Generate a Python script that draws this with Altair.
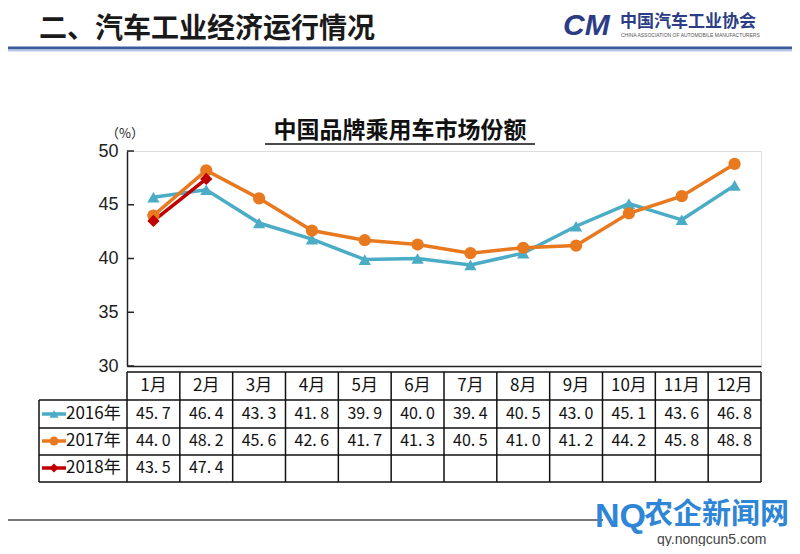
import altair as alt
import pandas as pd

months = ["1月", "2月", "3月", "4月", "5月", "6月", "7月", "8月", "9月", "10月", "11月", "12月"]
series = ["2016年", "2017年", "2018年"]
v2016 = [45.7, 46.4, 43.3, 41.8, 39.9, 40.0, 39.4, 40.5, 43.0, 45.1, 43.6, 46.8]
v2017 = [44.0, 48.2, 45.6, 42.6, 41.7, 41.3, 40.5, 41.0, 41.2, 44.2, 45.8, 48.8]
v2018 = [43.5, 47.4]
colors = ["#4BACC6", "#E8791F", "#C00000"]
shapes = ["triangle-up", "circle", "diamond"]
y_ticks = [30, 35, 40, 45, 50]

rows = []
for s, vals in zip(series, [v2016, v2017, v2018]):
    for i, v in enumerate(vals):
        rows.append({"m": i + 1, "month": months[i], "series": s, "value": v,
                     "label": f"{v:.1f}".replace(".", ". ")})
df = pd.DataFrame(rows)
mdf = pd.DataFrame({"m": list(range(1, 13)), "month": months})
bdf = pd.DataFrame({"b": [i + 0.5 for i in range(13)]})
tdf = pd.DataFrame({"t": y_ticks})

CJK = "Noto Sans CJK SC"
xs = alt.Scale(domain=[0.5, 12.5], nice=False, zero=False)
ys = alt.Scale(domain=[30, 50], nice=False, zero=False)
cs = alt.Scale(domain=series, range=colors)
ss = alt.Scale(domain=series, range=shapes)

base = alt.Chart(df)

lines = base.mark_line(strokeWidth=3.5).encode(
    x=alt.X("m:Q", scale=xs, axis=alt.Axis(labels=False, ticks=False, grid=False, title=None,
                                           domainColor="#222", domainWidth=1.5)),
    y=alt.Y("value:Q", scale=ys, axis=alt.Axis(values=y_ticks, ticks=False, grid=False, title=None,
                                              labelFont="Liberation Sans", labelFontSize=18,
                                              labelColor="#222", labelPadding=9,
                                              domainColor="#222", domainWidth=1.5)),
    color=alt.Color("series:N", scale=cs, legend=None),
    detail="series:N",
    order=alt.Order("m:Q"),
)
points = base.mark_point(filled=True, opacity=1, size=150).encode(
    x=alt.X("m:Q", scale=xs),
    y=alt.Y("value:Q", scale=ys),
    color=alt.Color("series:N", scale=cs, legend=None),
    shape=alt.Shape("series:N", scale=ss, legend=None),
)

yticks = alt.Chart(tdf).mark_rule(color="#222", strokeWidth=1.5).encode(
    y=alt.Y("t:Q", scale=ys), x=alt.value(0), x2=alt.value(7))

# Header
header = alt.Chart(pd.DataFrame({"t": ["二、汽车工业经济运行情况"]})).mark_text(
    align="left", baseline="middle", font=CJK, fontSize=28, fontWeight="bold", color="#1a1a1a"
).encode(text="t:N", x=alt.value(-88), y=alt.value(-121))
hline1 = alt.Chart(pd.DataFrame({"a": [0]})).mark_rule(color="#3A5A9C", strokeWidth=3).encode(
    x=alt.value(-135), x2=alt.value(700), y=alt.value(-103))
hline2 = alt.Chart(pd.DataFrame({"a": [0]})).mark_rule(color="#B5C9E6", strokeWidth=2).encode(
    x=alt.value(-135), x2=alt.value(700), y=alt.value(-100.5))
logo_cm = alt.Chart(pd.DataFrame({"t": ["CM"]})).mark_text(
    align="left", baseline="middle", font="Liberation Sans", fontSize=30, fontWeight="bold",
    fontStyle="italic", color="#2B3D85"
).encode(text="t:N", x=alt.value(436), y=alt.value(-125))
logo_cn = alt.Chart(pd.DataFrame({"t": ["中国汽车工业协会"]})).mark_text(
    align="left", baseline="middle", font=CJK, fontSize=17, fontWeight="bold", color="#2B3D85"
).encode(text="t:N", x=alt.value(493), y=alt.value(-129))
logo_en = alt.Chart(pd.DataFrame({"t": ["CHINA ASSOCIATION OF AUTOMOBILE MANUFACTURERS"]})).mark_text(
    align="left", baseline="middle", font="Liberation Sans", fontSize=5, color="#555"
).encode(text="t:N", x=alt.value(494), y=alt.value(-116))

# Title
title = alt.Chart(pd.DataFrame({"t": ["中国品牌乘用车市场份额"]})).mark_text(
    align="center", baseline="middle", font=CJK, fontSize=23, fontWeight="bold", color="#111"
).encode(text="t:N", x=alt.value(273), y=alt.value(-20))
underline = alt.Chart(pd.DataFrame({"a": [0]})).mark_rule(color="#111", strokeWidth=1.5).encode(
    x=alt.value(138), x2=alt.value(408), y=alt.value(-7))
unit = alt.Chart(pd.DataFrame({"t": ["（%）"]})).mark_text(
    align="center", baseline="middle", font=CJK, fontSize=13, color="#222"
).encode(text="t:N", x=alt.value(-2), y=alt.value(-17))

# Table
hrules = []
for yy, x0 in [(221, 0), (249, -88), (277, -88), (304, -88), (331, -88)]:
    hrules.append(alt.Chart(pd.DataFrame({"a": [0]})).mark_rule(color="#111", strokeWidth=1.5).encode(
        x=alt.value(x0), x2=alt.value(634), y=alt.value(yy)))
vrules = alt.Chart(bdf).mark_rule(color="#111", strokeWidth=1.5).encode(
    x=alt.X("b:Q", scale=xs), y=alt.value(221), y2=alt.value(331))
vleft = alt.Chart(pd.DataFrame({"a": [0]})).mark_rule(color="#111", strokeWidth=1.5).encode(
    x=alt.value(-88), y=alt.value(249), y2=alt.value(331))
mtext = alt.Chart(mdf).mark_text(font=CJK, fontSize=17, color="#111", baseline="middle").encode(
    x=alt.X("m:Q", scale=xs), y=alt.value(235), text="month:N")

row_y = {"2016年": 263, "2017年": 290, "2018年": 317}
vtexts, legs = [], []
for s, c, sh in zip(series, colors, shapes):
    vtexts.append(alt.Chart(df[df.series == s]).mark_text(
        font=CJK, fontSize=16, color="#111", baseline="middle").encode(
        x=alt.X("m:Q", scale=xs), y=alt.value(row_y[s]), text="label:N"))
    legs.append(alt.Chart(pd.DataFrame({"a": [0]})).mark_rule(color=c, strokeWidth=3.5).encode(
        x=alt.value(-85), x2=alt.value(-61), y=alt.value(row_y[s])))
    legs.append(alt.Chart(pd.DataFrame({"a": [0]})).mark_point(
        color=c, filled=True, opacity=1, size=80, shape=sh).encode(
        x=alt.value(-73), y=alt.value(row_y[s])))
    legs.append(alt.Chart(pd.DataFrame({"t": [s]})).mark_text(
        align="left", baseline="middle", font=CJK, fontSize=17, color="#111").encode(
        text="t:N", x=alt.value(-61), y=alt.value(row_y[s])))

# Footer
fline = alt.Chart(pd.DataFrame({"a": [0]})).mark_rule(color="#777", strokeWidth=2).encode(
    x=alt.value(-135), x2=alt.value(476), y=alt.value(369))
wm1 = alt.Chart(pd.DataFrame({"t": ["农企新闻网"]})).mark_text(
    align="left", baseline="middle", font=CJK, fontSize=29, fontWeight="bold", color="#2F86D6"
).encode(text="t:N", x=alt.value(517), y=alt.value(364))
wm2 = alt.Chart(pd.DataFrame({"t": ["qy.nongcun5.com"]})).mark_text(
    align="left", baseline="middle", font="Liberation Sans", fontSize=14, color="#444"
).encode(text="t:N", x=alt.value(530), y=alt.value(389))
wm3 = alt.Chart(pd.DataFrame({"t": ["NQ"]})).mark_text(
    align="left", baseline="middle", font="Liberation Sans", fontSize=34, fontWeight="bold", color="#2F86D6"
).encode(text="t:N", x=alt.value(468), y=alt.value(366))

chart = alt.layer(
    lines, yticks, *hrules, vrules, vleft, mtext, *vtexts, *legs,
    header, hline1, hline2, logo_cm, logo_cn, logo_en, title, underline, unit,
    fline, wm3, wm1, wm2, points,
).properties(
    width=634, height=215,
    padding={"left": 119, "top": 143, "right": 31, "bottom": 180},
    autosize=alt.AutoSizeParams(type="none"),
).configure_view(stroke=None).configure(background="white")

chart.save("out.html", embed_options={"renderer": "svg", "actions": False})
